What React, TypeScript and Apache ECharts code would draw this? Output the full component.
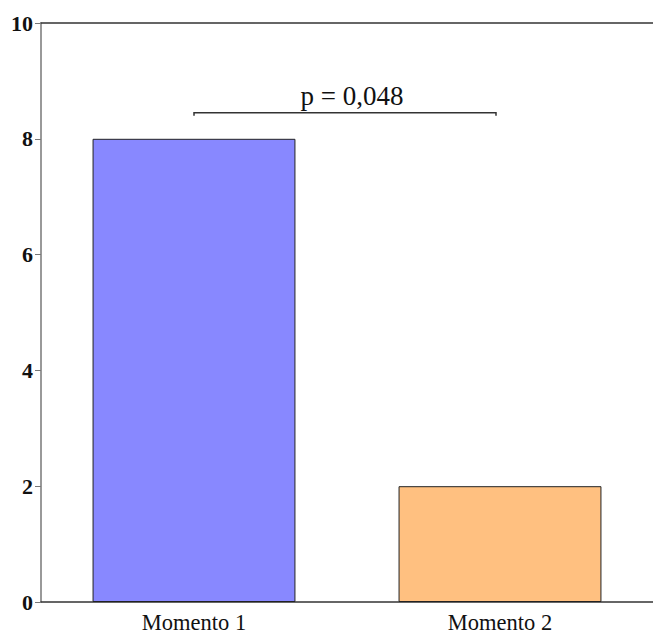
import React, { useEffect, useRef } from "react";
import * as echarts from "echarts";

const categories = ["Momento 1", "Momento 2"];
const values = [8, 2];
const barColors = ["#8888FF", "#FFC080"];
const yTicks = { min: 0, max: 10, interval: 2 };
const bracket = { from: 0, to: 1, y: 8.45, label: "p = 0,048" };

export default function App() {
  const ref = useRef<HTMLDivElement>(null);
  useEffect(() => {
    if (!ref.current) return;
    const chart = echarts.init(ref.current, null, { renderer: "svg" });
    const font = "'Liberation Serif', 'Times New Roman', serif";
    chart.setOption({
      animation: false,
      backgroundColor: "#ffffff",
      grid: { left: 41, width: 622, top: 23, bottom: 35 },
      xAxis: [
        {
          type: "category",
          data: categories,
          axisLine: { lineStyle: { color: "#333333", width: 1.5 } },
          axisTick: { alignWithLabel: true, length: 5, lineStyle: { color: "#333333" } },
          axisLabel: { fontFamily: font, fontSize: 22.5, color: "#111111", margin: 9 },
        },
        {
          type: "category",
          position: "top",
          data: categories,
          axisLine: { show: true, lineStyle: { color: "#333333", width: 1.5 } },
          axisTick: { show: false },
          axisLabel: { show: false },
        },
      ],
      yAxis: {
        type: "value",
        min: yTicks.min,
        max: yTicks.max,
        interval: yTicks.interval,
        splitLine: { show: false },
        axisLine: { show: true, lineStyle: { color: "#777777", width: 1.5 } },
        axisTick: { show: true, length: 6, lineStyle: { color: "#777777" } },
        axisLabel: { fontFamily: font, fontSize: 22, fontWeight: "bold", color: "#111111", margin: 8 },
      },
      series: [
        {
          type: "bar",
          barWidth: "66.3%",
          data: values.map((v, i) => ({
            value: v,
            itemStyle: { color: barColors[i], borderColor: "#222222", borderWidth: 1 },
          })),
        },
        {
          type: "custom",
          data: [[bracket.from, bracket.to, bracket.y]],
          renderItem: (params: any, api: any) => {
            const p0 = api.coord([api.value(0), api.value(2)]);
            const p1 = api.coord([api.value(1), api.value(2)]);
            return {
              type: "group",
              children: [
                {
                  type: "polyline",
                  shape: { points: [[p0[0], p0[1] + 3], p0, [p1[0] - 4, p1[1]], [p1[0] - 4, p1[1] + 3]] },
                  style: { stroke: "#333333", lineWidth: 1.5, fill: null },
                },
                {
                  type: "text",
                  x: (p0[0] + p1[0]) / 2 + 5,
                  y: p0[1] - 3,
                  style: {
                    text: bracket.label,
                    fontFamily: font,
                    fontSize: 27,
                    fill: "#111111",
                    align: "center",
                    verticalAlign: "bottom",
                  },
                },
              ],
            };
          },
        },
      ],
    });
    return () => chart.dispose();
  }, []);
  return (
    <div
      ref={ref}
      style={{ position: "absolute", left: 0, top: 0, width: 653, height: 637 }}
    />
  );
}
